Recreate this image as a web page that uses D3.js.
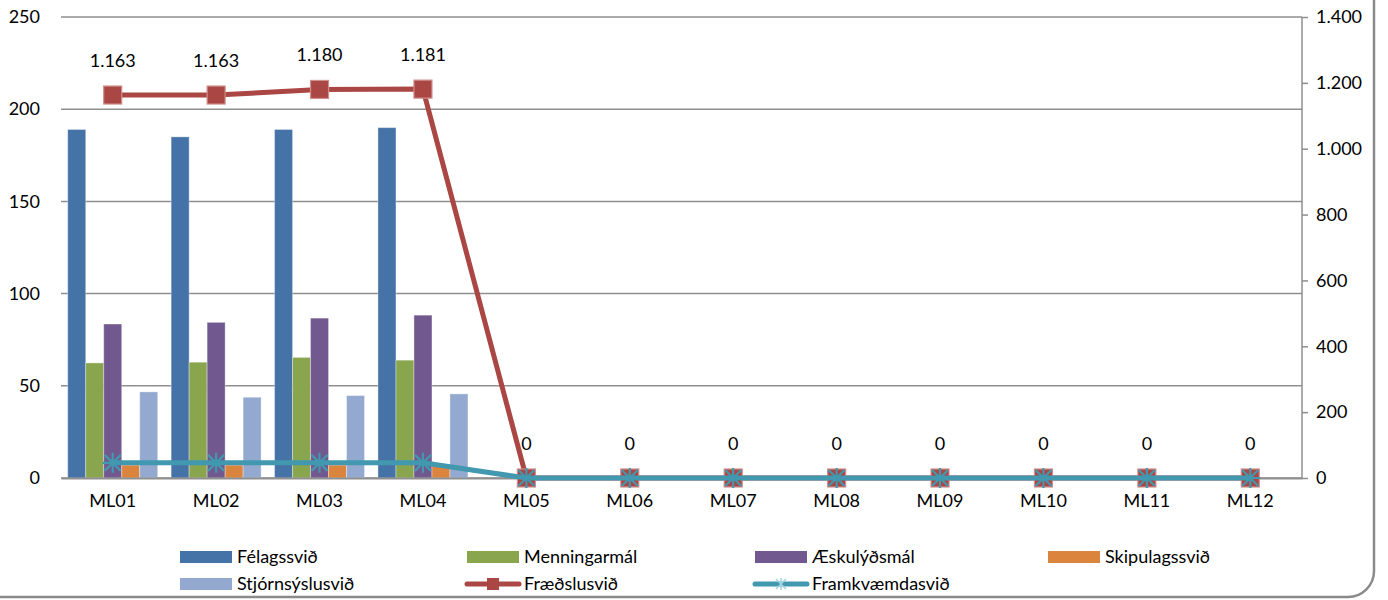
<!DOCTYPE html>
<html>
<head>
<meta charset="utf-8">
<script src="https://cdn.jsdelivr.net/npm/d3@7"></script>
<style>
  body { margin: 0; background: #fff; }
  text { font-family: Lato, "Open Sans", sans-serif; fill: #000; }
</style>
</head>
<body>
<div id="chart"></div>
<script>
// data

const months = ["ML01","ML02","ML03","ML04","ML05","ML06","ML07","ML08","ML09","ML10","ML11","ML12"];
const barSeries = ["Félagssvið","Menningarmál","Æskulýðsmál","Skipulagssvið","Stjórnsýslusvið"];
const felagssvid      = [189, 185, 189, 190];
const menningarmal    = [62.4, 62.8, 65.4, 63.9];
const aeskulydsmal    = [83.5, 84.4, 86.7, 88.3];
const skipulagssvid   = [7, 7, 7, 7];
const stjornsyslusvid = [46.7, 43.8, 44.7, 45.6];
const fraedslusvid    = [1163, 1163, 1180, 1181, 0, 0, 0, 0, 0, 0, 0, 0];
const framkvaemdasvid = [46, 46, 46, 46, 0, 0, 0, 0, 0, 0, 0, 0];
const leftTicks  = [0, 50, 100, 150, 200, 250];
const rightTicks = [0, 200, 400, 600, 800, 1000, 1200, 1400];

const barValues = [felagssvid, menningarmal, aeskulydsmal, skipulagssvid, stjornsyslusvid];
const barColors = ["#4572A7", "#89A54E", "#71588F", "#DB843D", "#93A9CF"];
const redColor = "#AA4643";
const tealColor = "#4198AF";
const fontSize = "18px";

// Icelandic number format: 1.163
const locale = d3.formatLocale({ decimal: ",", thousands: ".", grouping: [3], currency: ["", ""] });
const fmt = locale.format(",d");

// Set dimensions and margins

const W = 1388, H = 600;
const margin = { top: 17, right: 86, bottom: 122, left: 61 };
const width = W - margin.left - margin.right;
const height = H - margin.top - margin.bottom;

const root = d3.select("#chart")
  .append("svg")
    .attr("width", W)
    .attr("height", H);

// outer rounded frame (only bottom right corner is visible)
root.append("rect")
  .attr("x", -30).attr("y", -30)
  .attr("width", 1374 + 30).attr("height", 597 + 30)
  .attr("rx", 26)
  .attr("fill", "none")
  .attr("stroke", "#8a8a8a")
  .attr("stroke-width", 2.5);

const svg = root.append("g")
  .attr("transform", `translate(${margin.left},${margin.top})`);

// scales

const x0 = d3.scaleBand()
  .domain(months)
  .range([0, width])
  .paddingInner(0.13)
  .paddingOuter(0.065);

const x1 = d3.scaleBand()
  .domain(barSeries)
  .range([0, x0.bandwidth()]);

const y = d3.scaleLinear().domain([0, 250]).range([height, 0]);
const y2 = d3.scaleLinear().domain([0, 1400]).range([height, 0]);

const cx = d => x0(d) + x0.bandwidth() / 2;

// gridlines

svg.append("g")
  .selectAll("line")
  .data(leftTicks)
  .join("line")
    .attr("x1", 0).attr("x2", width)
    .attr("y1", d => y(d)).attr("y2", d => y(d))
    .attr("stroke", "#8f8f8f")
    .attr("stroke-width", 1.5);

// left axis

const yAxis = svg.append("g")
  .call(d3.axisLeft(y).tickValues(leftTicks).tickSize(0).tickPadding(21));
yAxis.select(".domain").remove();
yAxis.selectAll("text").style("font-size", fontSize).style("font-family", "Lato, sans-serif");

// right axis

const yAxis2 = svg.append("g")
  .attr("transform", `translate(${width},0)`)
  .call(d3.axisRight(y2).tickValues(rightTicks).tickSize(6).tickPadding(8).tickFormat(fmt));
yAxis2.select(".domain").attr("stroke", "#8f8f8f").attr("stroke-width", 1.5).attr("d", `M0,0V${height}`);
yAxis2.selectAll(".tick line").attr("stroke", "#8f8f8f").attr("stroke-width", 1.5);
yAxis2.selectAll("text").style("font-size", fontSize).style("font-family", "Lato, sans-serif");

// bars

barSeries.forEach((s, i) => {
  svg.append("g")
    .selectAll("rect")
    .data(barValues[i].map((v, j) => ({ m: months[j], v: v })))
    .join("rect")
      .attr("x", d => x0(d.m) + x1(s))
      .attr("y", d => y(d.v))
      .attr("width", x1.bandwidth())
      .attr("height", d => height - y(d.v))
      .attr("fill", barColors[i])
      .attr("stroke", "rgba(255,255,255,0.35)")
      .attr("stroke-width", 1);
});

// bottom axis

const xAxis = svg.append("g")
  .attr("transform", `translate(0,${height})`)
  .call(d3.axisBottom(x0).tickSize(0).tickPadding(16));
xAxis.select(".domain").attr("stroke", "#8f8f8f").attr("stroke-width", 2);
xAxis.selectAll("text").style("font-size", fontSize).style("font-family", "Lato, sans-serif");

// Fræðslusvið line

const redData = fraedslusvid.map((v, j) => ({ m: months[j], v: v }));
svg.append("path")
  .datum(redData)
  .attr("d", d3.line().x(d => cx(d.m)).y(d => y2(d.v)))
  .attr("fill", "none")
  .attr("stroke", redColor)
  .attr("stroke-width", 5);

svg.append("g")
  .selectAll("rect")
  .data(redData)
  .join("rect")
    .attr("x", d => cx(d.m) - 9)
    .attr("y", d => y2(d.v) - 9)
    .attr("width", 18).attr("height", 18)
    .attr("fill", redColor)
    .attr("stroke", "#cf8f8c")
    .attr("stroke-width", 1.2);

svg.append("g")
  .selectAll("text")
  .data(redData)
  .join("text")
    .attr("x", d => cx(d.m))
    .attr("y", d => y2(d.v) - 28)
    .attr("text-anchor", "middle")
    .style("font-size", fontSize)
    .text(d => fmt(d.v));

// Framkvæmdasvið line

const tealData = framkvaemdasvid.map((v, j) => ({ m: months[j], v: v }));
svg.append("path")
  .datum(tealData)
  .attr("d", d3.line().x(d => cx(d.m)).y(d => y2(d.v)))
  .attr("fill", "none")
  .attr("stroke", tealColor)
  .attr("stroke-width", 5);

const star = "M-8,-8L8,8M-8,8L8,-8M0,-10L0,10M-10,0L10,0";
svg.append("g")
  .selectAll("path")
  .data(tealData)
  .join("path")
    .attr("transform", d => `translate(${cx(d.m)},${y2(d.v)})`)
    .attr("d", star)
    .attr("stroke", tealColor)
    .attr("stroke-width", 2.2)
    .attr("fill", "none");

// legend

const legendItems = [
  { name: "Félagssvið", x: 180, y: 557, type: "bar", color: barColors[0] },
  { name: "Menningarmál", x: 467, y: 557, type: "bar", color: barColors[1] },
  { name: "Æskulýðsmál", x: 755, y: 557, type: "bar", color: barColors[2] },
  { name: "Skipulagssvið", x: 1048, y: 557, type: "bar", color: barColors[3] },
  { name: "Stjórnsýslusvið", x: 180, y: 584, type: "bar", color: barColors[4] },
  { name: "Fræðslusvið", x: 467, y: 584, type: "red", color: redColor },
  { name: "Framkvæmdasvið", x: 755, y: 584, type: "teal", color: tealColor }
];

const legend = root.append("g");
legendItems.forEach(it => {
  const g = legend.append("g").attr("transform", `translate(${it.x},${it.y})`);
  if (it.type === "bar") {
    g.append("rect").attr("x", 0).attr("y", -6).attr("width", 52).attr("height", 12).attr("fill", it.color);
  } else {
    g.append("line").attr("x1", 0).attr("x2", 52).attr("y1", 0).attr("y2", 0)
      .attr("stroke", it.color).attr("stroke-width", 5).attr("stroke-linecap", "round");
    if (it.type === "red") {
      g.append("rect").attr("x", 20).attr("y", -6).attr("width", 12).attr("height", 12).attr("fill", it.color);
    } else {
      g.append("path").attr("transform", "translate(26,0)").attr("d", "M-5,-5L5,5M-5,5L5,-5M0,-6L0,6")
        .attr("stroke", "#9fd3e0").attr("stroke-width", 1.5);
    }
  }
  g.append("text")
    .attr("x", 57)
    .attr("dy", "0.35em")
    .style("font-size", fontSize)
    .text(it.name);
});
</script>
</body>
</html>
